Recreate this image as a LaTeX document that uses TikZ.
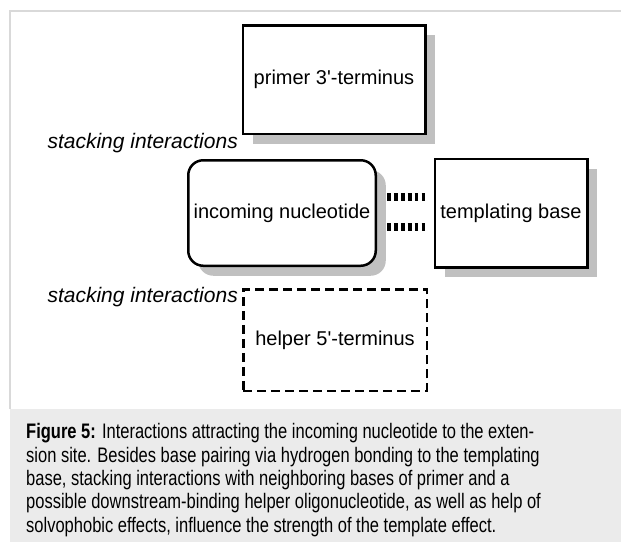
\documentclass[tikz,border=0pt]{standalone}
\usepackage{fontspec}
\setmainfont{Liberation Sans}
\newfontfamily\capfont[FakeStretch=0.786]{Liberation Sans}
\usetikzlibrary{positioning, shadows}

\definecolor{shadowgray}{HTML}{C0C0C0}
\definecolor{framegray}{HTML}{D9D9D9}
\definecolor{capgray}{HTML}{EBEBEB}

\begin{document}
\begin{tikzpicture}[x=1pt, y=-1pt,
  box/.style={rectangle, draw, line width=2.5pt, fill=white, align=center,
    font=\fontsize{20}{24}\selectfont,
    drop shadow={shadow xshift=10pt, shadow yshift=-10pt, opacity=1, fill=shadowgray}},
  helperbox/.style={rectangle, draw, line width=2.5pt, dash pattern=on 9pt off 5pt,
    align=center, font=\fontsize{20}{24}\selectfont},
  stacklabel/.style={inner sep=0pt, font=\fontsize{21}{24}\selectfont\itshape},
  hbond/.style={draw, line width=8pt, dash pattern=on 3.8pt off 3.1pt},
  captext/.style={inner sep=0pt, align=left, font=\capfont\fontsize{21}{23.3}\selectfont}
]
\useasboundingbox (0,0) rectangle (621,542);

% frame and caption panel
\fill[capgray] (10,409) rectangle (621,542);
\draw[framegray, line width=1.5pt] (10,409) -- (10,11) -- (621,11);

% the boxes
\node[box, minimum width=182.5pt, minimum height=108.5pt] (primer) at (334,79.5) {primer 3\textquotesingle-terminus};
\node[box, rounded corners=15pt, minimum width=187.5pt, minimum height=105.5pt] (incoming) at (282,213) {incoming nucleotide};
\node[box, minimum width=152.5pt, minimum height=108.5pt, right=56.5pt of incoming] (templ) {templating base};
\node[helperbox, minimum width=183.5pt, minimum height=101.5pt] (helper) at (335,340) {helper 5\textquotesingle-terminus};

% base pairing
\draw[hbond, shorten <=10pt, shorten >=8pt] ([yshift=16pt]incoming.east) -- ([yshift=16pt]templ.west);
\draw[hbond, shorten <=10pt, shorten >=8pt] ([yshift=-14pt]incoming.east) -- ([yshift=-14pt]templ.west);

% stacking labels
\node[stacklabel, anchor=base east] (stackup) at (238,148) {stacking interactions};
\node[stacklabel, anchor=base east] (stackdown) at (238,302) {stacking interactions};

\node[captext, anchor=north west] (caption) at (26,423.5) {\textbf{Figure 5:} Interactions attracting the incoming nucleotide to the exten-\\
sion site. Besides base pairing via hydrogen bonding to the templating\\
base, stacking interactions with neighboring bases of primer and a\\
possible downstream-binding helper oligonucleotide, as well as help of\\
solvophobic effects, influence the strength of the template effect.};
\end{tikzpicture}
\end{document}
